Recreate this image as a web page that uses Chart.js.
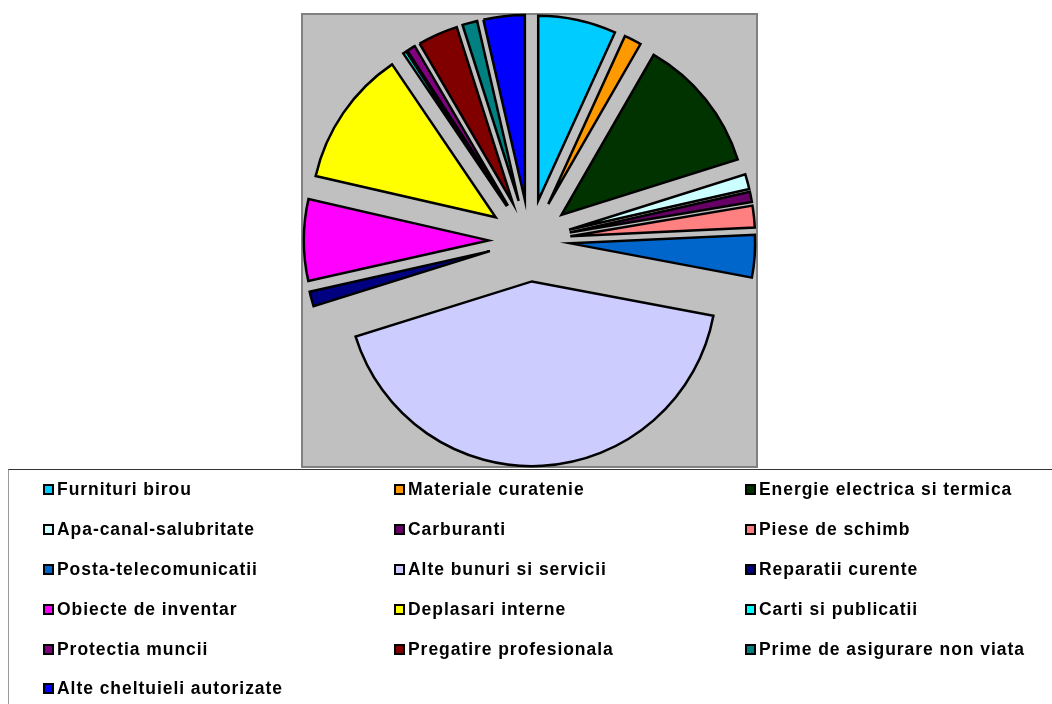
<!DOCTYPE html>
<html>
<head>
<meta charset="utf-8">
<script src="https://cdn.jsdelivr.net/npm/chart.js"></script>
<style>
  body { margin: 0; background: #fff; }
  #wrap { position: relative; width: 1052px; height: 704px; overflow: hidden; }
  #myChart { position: absolute; left: 0; top: 0; }
  #legend { position: absolute; left: 8px; top: 469px; width: 1100px; height: 300px;
            border-top: 1px solid #333; border-left: 1px solid #999; }
  #legend ul { list-style: none; margin: 0; padding: 0 0 0 34px; display: grid;
               grid-template-columns: repeat(3, 351px); grid-auto-rows: 39.8px; }
  #legend li { display: flex; align-items: center; white-space: nowrap; color: #000;
               font: bold 17.5px 'Liberation Sans', Arial, sans-serif; letter-spacing: 0.95px; }
  #legend .box { width: 7px; height: 7px; border: 2px solid #000; margin-right: 3px; flex: none; }
</style>
</head>
<body>
<div id="wrap">
  <canvas id="myChart" width="1052" height="470"></canvas>
  <div id="legend"></div>
</div>
<script>
const categorias = [
    'Furnituri birou', 'Materiale curatenie', 'Energie electrica si termica',
    'Apa-canal-salubritate', 'Carburanti', 'Piese de schimb',
    'Posta-telecomunicatii', 'Alte bunuri si servicii', 'Reparatii curente',
    'Obiecte de inventar', 'Deplasari interne', 'Carti si publicatii',
    'Protectia muncii', 'Pregatire profesionala', 'Prime de asigurare non viata',
    'Alte cheltuieli autorizate'
];
// porcentaje aproximado de cada porcion
const valores = [6.8, 1.5, 11.8, 1.3, 0.9, 1.9, 3.7, 42.1, 1.3, 7.1, 11.9, 0.3, 0.75, 3.5, 1.3, 3.6];
const colores = [
    '#00ccff', '#ff9900', '#003300', '#ccffff', '#660066', '#ff8080',
    '#0066cc', '#ccccff', '#000080', '#ff00ff', '#ffff00', '#00ffff',
    '#800080', '#800000', '#008080', '#0000ff'
];

const fondoGris = {
    id: 'fondoGris',
    beforeDatasetsDraw(chart) {
        const {ctx, chartArea: a} = chart;
        ctx.save();
        ctx.fillStyle = '#c0c0c0';
        ctx.fillRect(a.left, a.top, a.width, a.height);
        ctx.strokeStyle = '#808080';
        ctx.lineWidth = 2;
        ctx.strokeRect(a.left, a.top, a.width, a.height);
        ctx.restore();
    }
};

// pie "explotado": cada porcion se aleja del centro
const explotar = {
    id: 'explotar',
    beforeDatasetDraw(chart, args, opts) {
        const ctx = chart.ctx;
        args.meta.data.forEach(arc => {
            const medio = (arc.startAngle + arc.endAngle) / 2;
            ctx.save();
            ctx.translate(Math.cos(medio) * opts.distancia, Math.sin(medio) * opts.distancia);
            arc.draw(ctx);
            ctx.restore();
        });
        return false;
    }
};

const leyendaHtml = {
    id: 'leyendaHtml',
    afterUpdate(chart) {
        const ul = document.createElement('ul');
        chart.options.plugins.legend.labels.generateLabels(chart).forEach(item => {
            const li = document.createElement('li');
            const box = document.createElement('span');
            box.className = 'box';
            box.style.background = item.fillStyle;
            li.appendChild(box);
            li.appendChild(document.createTextNode(item.text));
            ul.appendChild(li);
        });
        const cont = document.getElementById('legend');
        cont.innerHTML = '';
        cont.appendChild(ul);
    }
};

const ctx = document.getElementById('myChart');
const myChart = new Chart(ctx, {
    type: 'pie',
    data: {
        labels: categorias,
        datasets: [{
            data: valores,
            backgroundColor: colores,
            borderColor: '#000000',
            borderWidth: 2.5,
            borderJoinStyle: 'miter'
        }]
    },
    options: {
        responsive: false,
        animation: false,
        radius: '82%',
        layout: { padding: { left: 302, right: 295, top: 14, bottom: 3 } },
        plugins: {
            legend: { display: false },
            tooltip: { enabled: false },
            explotar: { distancia: 41 }
        }
    },
    plugins: [fondoGris, explotar, leyendaHtml]
});
</script>
</body>
</html>
